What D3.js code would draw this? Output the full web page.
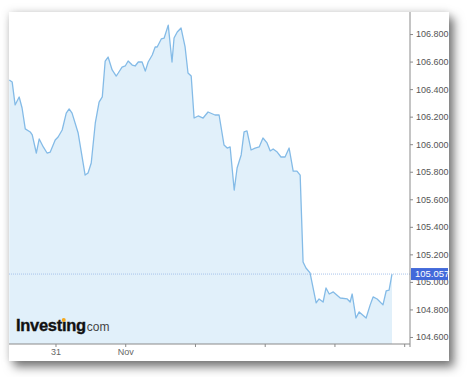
<!DOCTYPE html>
<html>
<head>
<meta charset="utf-8">
<script src="https://cdn.jsdelivr.net/npm/d3@7"></script>
<style>
  body { margin: 0; background: #fff; }
  svg { display: block; font-family: "Liberation Sans", Arial, sans-serif; }
</style>
</head>
<body>
<div id="chart"></div>
<script>
// hours from 31 Oct 00:00, price
const hours = [-15.9, -14.9, -13.9, -12.5, -11.5, -10.4, -8.7, -8.0, -6.6, -5.6, -4.2, -2.9, -1.8, -0.1, 0.9, 2.3, 3.7, 4.7, 5.7, 7.8,
    10.2, 11.2, 12.3, 13.7, 15.0, 16.1, 17.1, 18.1, 19.5, 20.9, 21.6, 22.9, 24.0, 25.0, 26.4, 27.4, 28.5, 29.8, 30.9, 31.9,
    33.3, 34.3, 35.0, 36.4, 37.4, 38.8, 40.1, 40.8, 41.9, 43.2, 44.6, 45.6, 46.7, 47.7, 49.1, 50.8, 52.5, 54.9, 56.3, 58.0,
    59.1, 60.1, 61.5, 62.5, 63.9, 64.9, 65.9, 67.3, 68.7, 70.1, 71.4, 72.8, 73.9, 74.9, 76.3, 77.6, 79.0, 80.4, 81.8, 83.1,
    84.2, 85.2, 86.2, 87.6, 89.7, 90.7, 92.1, 93.1, 94.2, 95.6, 98.0, 100.4, 101.4, 102.1, 103.4, 104.5, 106.9, 108.3, 109.3, 110.7,
    112.7, 113.8, 114.8, 115.8];
const prices = [106.466, 106.451, 106.285, 106.343, 106.263, 106.111, 106.089, 106.067, 105.936, 106.038, 105.980, 105.936, 105.943, 106.030, 106.052, 106.103, 106.226, 106.256, 106.226, 106.081,
    105.776, 105.791, 105.863, 106.154, 106.306, 106.343, 106.604, 106.633, 106.539, 106.495, 106.517, 106.560, 106.568, 106.604, 106.575, 106.568, 106.597, 106.597, 106.531, 106.597,
    106.648, 106.706, 106.706, 106.764, 106.771, 106.865, 106.597, 106.771, 106.815, 106.844, 106.706, 106.517, 106.495, 106.190, 106.205, 106.190, 106.234, 106.212, 106.212, 105.994,
    105.972, 105.980, 105.667, 105.827, 105.922, 106.089, 106.096, 105.958, 105.972, 105.980, 106.045, 106.009, 105.951, 105.965, 105.943, 105.907, 105.907, 105.972, 105.805, 105.805,
    105.776, 105.145, 105.101, 105.065, 104.847, 104.876, 104.854, 104.956, 104.912, 104.927, 104.883, 104.876, 104.854, 104.912, 104.738, 104.782, 104.738, 104.833, 104.891, 104.876,
    104.833, 104.934, 104.941, 105.057];
const lastPrice = 105.057;
const yTicks = [104.6, 104.8, 105.0, 105.2, 105.4, 105.6, 105.8, 106.0, 106.2, 106.4, 106.6, 106.8];
const dayTicks = [0, 24, 48, 72, 96, 120];
const dayLabels = ["31", "Nov", "", "", "", ""];

const W = 469, H = 377;
const card = { x: 9, y: 12, w: 440, h: 349 };
const plot = { left: 9, top: 12, right: 410, bottom: 344 };

const svg = d3.select("#chart").append("svg")
    .attr("width", W)
    .attr("height", H);

const defs = svg.append("defs");
const f = defs.append("filter").attr("id", "shadow")
    .attr("x", -0.1).attr("y", -0.1).attr("width", 1.2).attr("height", 1.2);
f.append("feDropShadow").attr("dx", 0).attr("dy", 0).attr("stdDeviation", 4)
    .attr("flood-color", "#000").attr("flood-opacity", 0.15);
f.append("feDropShadow").attr("dx", 5).attr("dy", 6).attr("stdDeviation", 5)
    .attr("flood-color", "#000").attr("flood-opacity", 0.5);

svg.append("rect")
    .attr("x", card.x).attr("y", card.y)
    .attr("width", card.w).attr("height", card.h)
    .attr("fill", "#fff")
    .attr("filter", "url(#shadow)");

const x = d3.scaleLinear().domain([-16, 122]).range([plot.left, plot.right]);
const y = d3.scaleLinear().domain([104.549, 106.960]).range([plot.bottom, plot.top]);

const data = hours.map((h, i) => ({ h: h, v: prices[i] }));

svg.append("path")
    .datum(data)
    .attr("fill", "#e1f0fa")
    .attr("d", d3.area().x(d => x(d.h)).y0(plot.bottom).y1(d => y(d.v)));

svg.append("path")
    .datum(data)
    .attr("fill", "none")
    .attr("stroke", "#84bbe7")
    .attr("stroke-width", 1.3)
    .attr("stroke-linejoin", "round")
    .attr("d", d3.line().x(d => x(d.h)).y(d => y(d.v)));

// last price dotted line
svg.append("line")
    .attr("x1", plot.left).attr("x2", plot.right)
    .attr("y1", y(lastPrice)).attr("y2", y(lastPrice))
    .attr("stroke", "#a8c3ec")
    .attr("stroke-width", 1)
    .attr("stroke-dasharray", "1,1");

// right axis
const yAxis = d3.axisRight(y)
    .tickValues(yTicks)
    .tickSize(3)
    .tickPadding(3)
    .tickFormat(d3.format(".3f"));
const gy = svg.append("g")
    .attr("transform", `translate(${plot.right},0)`)
    .call(yAxis);
gy.select(".domain").attr("d", `M0,${plot.top}V${plot.bottom + 3}`).attr("stroke", "#8a8a8a");
gy.selectAll(".tick line").attr("stroke", "#8a8a8a");
gy.selectAll(".tick text").attr("fill", "#555").style("font-size", "9px")
    .style("font-family", "'Liberation Sans', Arial, sans-serif");

// bottom axis
const xAxis = d3.axisBottom(x)
    .tickValues(dayTicks)
    .tickSize(3)
    .tickPadding(2)
    .tickFormat((d, i) => dayLabels[i]);
const gx = svg.append("g")
    .attr("transform", `translate(0,${plot.bottom})`)
    .call(xAxis);
gx.select(".domain").attr("d", `M${plot.left},0H${plot.right}`).attr("stroke", "#8a8a8a");
gx.selectAll(".tick line").attr("stroke", "#8a8a8a");
gx.selectAll(".tick text").attr("fill", "#666").style("font-size", "9px")
    .style("font-family", "'Liberation Sans', Arial, sans-serif");

// last price label, covers top half of the 105.000 tick label like the original
const lp = svg.append("g").attr("transform", `translate(${plot.right + 1},${y(lastPrice)})`);
lp.append("rect")
    .attr("x", 0).attr("y", -6)
    .attr("width", card.x + card.w - plot.right - 2).attr("height", 12)
    .attr("fill", "#4269da");
lp.append("text")
    .attr("x", 4).attr("y", 0)
    .attr("dy", "0.35em")
    .attr("fill", "#fff")
    .style("font-size", "9.5px")
    .text(d3.format(".3f")(lastPrice));

// logo
const logo = svg.append("text")
    .attr("x", 16).attr("y", 331)
    .style("font-size", "16.5px")
    .style("font-weight", "bold")
    .style("letter-spacing", "-0.3px")
    .attr("fill", "#111")
    .attr("stroke", "#111")
    .attr("stroke-width", 0.35);
logo.append("tspan").text("Invest\u0131ng");
logo.append("tspan")
    .attr("dx", 1)
    .style("font-size", "12px")
    .style("font-weight", "normal")
    .style("letter-spacing", "0px")
    .attr("fill", "#444")
    .attr("stroke", "none")
    .text("com");

const ext = logo.node().getExtentOfChar(6);
svg.append("circle")
    .attr("cx", ext.x + ext.width / 2 - 0.3)
    .attr("cy", 320)
    .attr("r", 2)
    .attr("fill", "#f4a81d");
</script>
</body>
</html>
